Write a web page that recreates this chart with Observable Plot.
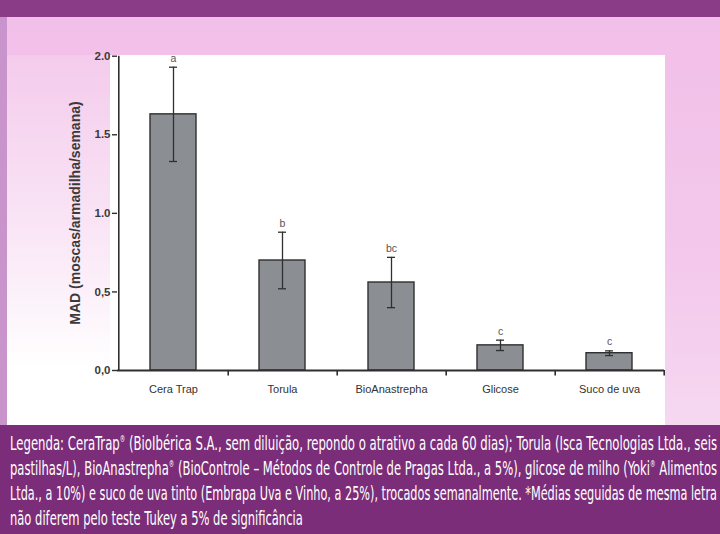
<!DOCTYPE html>
<html><head><meta charset="utf-8">
<script src="https://cdn.jsdelivr.net/npm/d3@7"></script>
<script src="https://cdn.jsdelivr.net/npm/@observablehq/plot@0.6"></script>
<style>
html,body{margin:0;padding:0;}
body{width:720px;height:534px;position:relative;overflow:hidden;background:#f3c2ea;font-family:"Liberation Sans",Arial,sans-serif;}
.abs{position:absolute;}
#top{left:0;top:0;width:720px;height:17px;background:#8a3c86;}
#leftb{left:0;top:17px;width:7px;height:408px;background:#c993cc;}
#pink{left:7px;top:17px;width:713px;height:408px;background:linear-gradient(180deg,#f2bfe8 0%,#f3c8ec 60%,#f6d8f1 100%);}
#whiteL{left:7px;top:55px;width:110px;height:370px;background:linear-gradient(180deg,#f4cbec 0%,#f9e4f5 45%,#ffffff 85%);}
#white{left:110px;top:55px;width:555px;height:370px;background:#ffffff;}
#chart{left:0;top:17px;}
#ylab{left:75px;top:213px;width:0;height:0;}
#ylab div{position:absolute;left:0;top:0;transform:translate(-50%,-50%) rotate(-90deg);white-space:nowrap;font-family:"Liberation Sans",Arial,sans-serif;font-weight:bold;font-size:14px;color:#3a3a3a;}
#cap{left:0;top:425px;width:720px;height:109px;background:#7b2d79;}
.line{position:absolute;left:10px;white-space:nowrap;color:#ffffff;font-family:"Liberation Sans Narrow","DejaVu Sans Condensed","Roboto Condensed",sans-serif;font-size:19px;line-height:20px;transform-origin:0 50%;}
.line sup{font-size:9px;vertical-align:8px;line-height:0;}
</style></head>
<body>
<div id="top" class="abs"></div>
<div id="pink" class="abs"></div>
<div id="leftb" class="abs"></div>
<div id="whiteL" class="abs"></div>
<div id="white" class="abs"></div>
<div id="chart" class="abs"></div>
<div id="ylab" class="abs"><div></div></div>
<div id="cap" class="abs"></div>
<script>
const categories = ["Cera Trap", "Torula", "BioAnastrepha", "Glicose", "Suco de uva"];
const means = [1.63, 0.70, 0.56, 0.16, 0.11];
const errors = [0.30, 0.18, 0.16, 0.033, 0.015];
const letters = ["a", "b", "bc", "c", "c"];
const yTickValues = [0, 0.5, 1, 1.5, 2];
const yTickLabels = ["0,0", "0,5", "1.0", "1.5", "2.0"];
const yLabel = "MAD (moscas/armadilha/semana)";
const captionLines = [
  "Legenda: CeraTrap<sup>®</sup> (BioIbérica S.A., sem diluição, repondo o atrativo a cada 60 dias); Torula (Isca Tecnologias Ltda., seis",
  "pastilhas/L), BioAnastrepha<sup>®</sup> (BioControle – Métodos de Controle de Pragas Ltda., a 5%), glicose de milho (Yoki<sup>®</sup> Alimentos",
  "Ltda., a 10%) e suco de uva tinto (Embrapa Uva e Vinho, a 25%), trocados semanalmente. *Médias seguidas de mesma letra",
  "não diferem pelo teste Tukey a 5% de significância"
];

const data = categories.map((c, i) => ({cat: c, mean: means[i], se: errors[i], letter: letters[i]}));
const W = 720, H = 408, ML = 117, MR = 56, MT = 38.7, MB = 55;
const step = (W - ML - MR) / categories.length;
const dark = "#2f2f2f";

const chart = Plot.plot({
  width: W, height: H,
  marginLeft: ML, marginRight: MR, marginTop: MT, marginBottom: MB,
  style: {background: "transparent", fontFamily: "'Liberation Sans', Arial, sans-serif", overflow: "visible"},
  x: {domain: categories, paddingInner: 0.58, paddingOuter: 0.29, label: null},
  y: {domain: [0, 2], label: null},
  marks: [
    Plot.barY(data, {x: "cat", y: "mean", fill: "#8b8f94", stroke: dark, strokeWidth: 1.4}),
    Plot.ruleX(data, {x: "cat", y1: d => d.mean - d.se, y2: d => d.mean + d.se, stroke: dark, strokeWidth: 1.3}),
    Plot.tickY(data, {x: "cat", y: d => d.mean + d.se, insetLeft: 19, insetRight: 19, stroke: dark, strokeWidth: 1.3}),
    Plot.tickY(data, {x: "cat", y: d => d.mean - d.se, insetLeft: 19, insetRight: 19, stroke: dark, strokeWidth: 1.3}),
    Plot.text(data, {x: "cat", y: d => d.mean + d.se, text: "letter", dy: -9, fontSize: 10.5, fill: "#555"}),
    Plot.axisY({ticks: yTickValues, tickFormat: d => yTickLabels[yTickValues.indexOf(d)], tickSize: 5, tickPadding: 2, fontSize: 11.5, fontWeight: "bold", fill: "#3a3a3a", stroke: dark, strokeWidth: 1.4, label: null}),
    Plot.axisX({tickSize: 0, tickPadding: 15, fontSize: 11, fill: "#333", label: null}),
    Plot.ruleX([categories[0]], {x: d => d, y1: 0, y2: 2, dx: -step / 2, stroke: dark, strokeWidth: 1.6}),
    Plot.ruleX(categories, {x: d => d, y1: 0, y2: -0.035, dx: step / 2, stroke: dark, strokeWidth: 1.6}),
    Plot.ruleY([0], {stroke: dark, strokeWidth: 1.8})
  ]
});
document.getElementById("chart").appendChild(chart);
document.querySelector("#ylab div").textContent = yLabel;

const cap = document.getElementById("cap");
const tops = [8, 33, 58, 83];
const els = captionLines.map((t, i) => {
  const d = document.createElement("div");
  d.className = "line";
  d.style.top = tops[i] + "px";
  d.innerHTML = t;
  cap.appendChild(d);
  return d;
});
const target = 707;
const scales = els.slice(0, 3).map(e => target / e.getBoundingClientRect().width);
const avg = scales.reduce((a, b) => a + b, 0) / scales.length;
els.forEach((e, i) => { e.style.transform = `scaleX(${i < 3 ? scales[i] : avg})`; });
</script>
</body></html>
